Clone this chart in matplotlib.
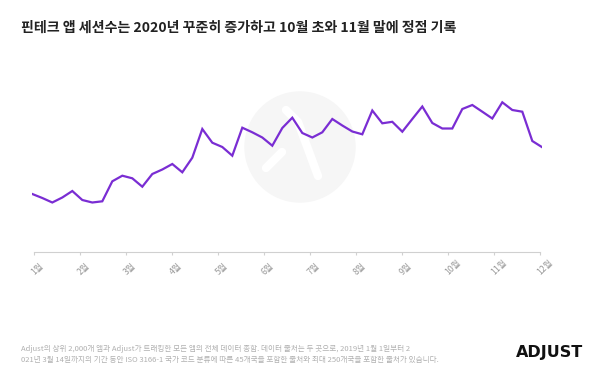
import matplotlib
matplotlib.use("Agg")
import matplotlib.pyplot as plt
from matplotlib.patches import Circle
from matplotlib.lines import Line2D

plt.rcParams['font.family'] = ['Noto Sans CJK KR', 'DejaVu Sans']

title = "핀테크 앱 세션수는 2020년 꾸준히 증가하고 10월 초와 11월 말에 정점 기록"
months = ["1월", "2월", "3월", "4월", "5월", "6월", "7월", "8월", "9월", "10월", "11월", "12월"]
weeks = list(range(52))
sessions = [58, 54, 49.5, 54.5, 61, 52, 49.5, 50.7, 70.7, 76.3, 73.7, 65.3,
            78, 82.5, 88, 79.7, 94.3, 123, 109.3, 105, 96.3, 124.3, 119.7, 114.5,
            106.3, 124, 134.3, 119, 114.5, 119.7, 133, 126.5, 120.5, 117.7, 141.5, 128.7,
            130.2, 120.3, 133, 145.5, 129, 123.5, 123.5, 143, 147, 140.3, 133.5, 149.7,
            142, 140.3, 111, 104.7]
footer1 = "Adjust의 상위 2,000개 앱과 Adjust가 트래킹한 모든 앱의 전체 데이터 종합. 데이터 출처는 두 곳으로, 2019년 1월 1일부터 2"
footer2 = "021년 3월 14일까지의 기간 동안 ISO 3166-1 국가 코드 분류에 따른 45개국을 포함한 출처와 최대 250개국을 포함한 출처가 있습니다."

W, H = 600, 375
fig = plt.figure(figsize=(6, 3.75), dpi=100)
fig.patch.set_facecolor("white")

# watermark circle
bg = fig.add_axes([0, 0, 1, 1])
bg.set_xlim(0, W)
bg.set_ylim(H, 0)
bg.axis("off")
bg.add_patch(Circle((300, 147), 55, color="#f6f6f6", zorder=0))
bg.add_line(Line2D([266, 282], [168, 152], color="white", lw=6, solid_capstyle="round", zorder=1))
bg.add_line(Line2D([286, 298, 318], [110, 122, 176], color="white", lw=6,
                   solid_capstyle="round", solid_joinstyle="round", zorder=1))

ax = fig.add_axes([32.3 / W, (H - 252) / H, (542.3 - 32.3) / W, (252 - 60) / H])
ax.patch.set_alpha(0)
ax.plot(weeks, sessions, color="#7a2dd3", lw=1.6, solid_joinstyle="miter")
ax.set_xlim(0, 51)
ax.set_ylim(0, 192)
for s in ["top", "right", "left"]:
    ax.spines[s].set_visible(False)
ax.spines["bottom"].set_color("#d0d0d0")
ax.spines["bottom"].set_linewidth(0.8)
tick_pos = [0.2 + i * (50.6 / 11) for i in range(12)]
ax.spines["bottom"].set_bounds(tick_pos[0], tick_pos[-1])
ax.set_yticks([])
ax.set_xticks(tick_pos)
ax.set_xticklabels([])
ax.tick_params(axis="x", length=2.5, width=0.8, color="#d0d0d0", direction="out")
for p, m in zip(tick_pos, months):
    ax.annotate(m, xy=(p, 0), xycoords=("data", "axes fraction"),
                xytext=(0.3, -16.5), textcoords="offset points",
                rotation=45, rotation_mode="anchor", ha="left", va="baseline",
                fontsize=6.3, color="#999999")

fig.text(21 / W, 1 - 28 / H, title, fontsize=10.1, weight="bold", color="#222222",
         va="center", ha="left")
fig.text(21 / W, 1 - 349 / H, footer1, fontsize=5.5, color="#b0b0b0", va="center", ha="left")
fig.text(21 / W, 1 - 360 / H, footer2, fontsize=5.5, color="#b0b0b0", va="center", ha="left")
fig.text(583 / W, 1 - 352.5 / H, "ADJUST", fontsize=11.5, weight="bold", color="#111111",
         va="center", ha="right", family=["DejaVu Sans"])

fig.savefig("out.png", dpi=100, facecolor="white")
